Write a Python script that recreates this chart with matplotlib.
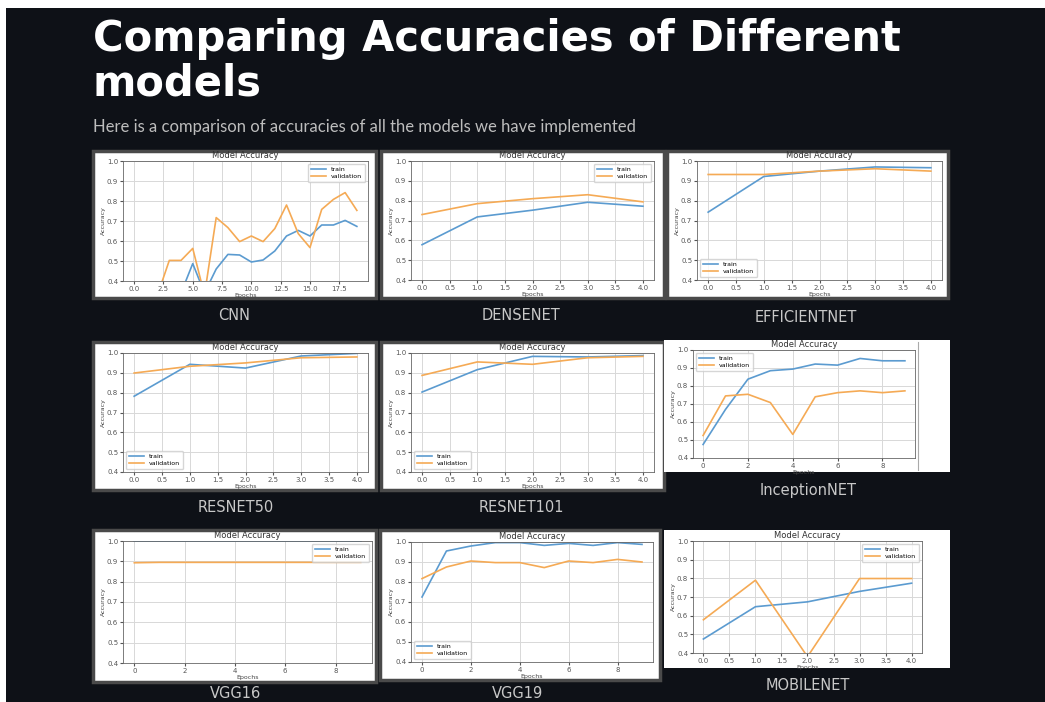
import matplotlib.pyplot as plt
from matplotlib.patches import Rectangle
from matplotlib.ticker import MultipleLocator

# Data (accuracy per epoch)
cnn_train = [0.22, 0.27, 0.30, 0.32, 0.34, 0.487, 0.34, 0.46, 0.533, 0.53,
             0.495, 0.505, 0.55, 0.625, 0.653, 0.625, 0.68, 0.68, 0.703, 0.673]
cnn_val = [0.25, 0.29, 0.331, 0.503, 0.503, 0.563, 0.33, 0.717, 0.667, 0.597,
           0.625, 0.597, 0.662, 0.78, 0.637, 0.567, 0.758, 0.808, 0.842, 0.753]

densenet_train = [0.578, 0.718, 0.752, 0.792, 0.772]
densenet_val = [0.73, 0.785, 0.81, 0.83, 0.794]

efficientnet_train = [0.742, 0.922, 0.949, 0.97, 0.966]
efficientnet_val = [0.932, 0.932, 0.949, 0.961, 0.949]

resnet50_train = [0.782, 0.943, 0.924, 0.985, 0.998]
resnet50_val = [0.899, 0.933, 0.95, 0.976, 0.98]

resnet101_train = [0.803, 0.916, 0.983, 0.98, 0.987]
resnet101_val = [0.887, 0.955, 0.943, 0.976, 0.983]

inception_train = [0.475, 0.67, 0.838, 0.885, 0.894, 0.922, 0.916, 0.953, 0.94, 0.94]
inception_val = [0.525, 0.745, 0.754, 0.708, 0.531, 0.74, 0.763, 0.773, 0.763, 0.773]

vgg16_train = [1.0, 1.0, 1.0, 1.0, 1.0, 1.0, 1.0, 1.0, 1.0, 1.0]
vgg16_val = [0.893, 0.895, 0.895, 0.895, 0.895, 0.895, 0.895, 0.895, 0.895, 0.895]

vgg19_train = [0.725, 0.955, 0.98, 0.997, 0.997, 0.983, 0.993, 0.983, 0.997, 0.988]
vgg19_val = [0.817, 0.875, 0.905, 0.897, 0.897, 0.872, 0.905, 0.897, 0.913, 0.9]

mobilenet_train = [0.475, 0.648, 0.674, 0.73, 0.774]
mobilenet_val = [0.578, 0.79, 0.38, 0.799, 0.799]

model_names = ['CNN', 'DENSENET', 'EFFICIENTNET', 'RESNET50', 'RESNET101',
               'InceptionNET', 'VGG16', 'VGG19', 'MOBILENET']
train_curves = [cnn_train, densenet_train, efficientnet_train, resnet50_train,
                resnet101_train, inception_train, vgg16_train, vgg19_train, mobilenet_train]
val_curves = [cnn_val, densenet_val, efficientnet_val, resnet50_val,
              resnet101_val, inception_val, vgg16_val, vgg19_val, mobilenet_val]
legend_locs = ['upper right', 'upper right', 'lower left', 'lower left', 'lower left',
               'upper left', 'upper right', 'lower left', 'upper right']

W, H = 1045, 702
BG = '#0e1117'

fig = plt.figure(figsize=(W / 100, H / 100), dpi=100, facecolor='white')


def fig_rect(l, t, r, b, **kw):
    rect = Rectangle((l / W, 1 - b / H), (r - l) / W, (b - t) / H,
                     transform=fig.transFigure, zorder=-10, **kw)
    fig.patches.append(rect)
    return rect


# dark page with thin white strip on top / left
fig_rect(6, 8, W, H, facecolor=BG, edgecolor='none')

fig.text(93 / W, 1 - 51 / H, 'Comparing Accuracies of Different', color='white',
         fontsize=30, fontweight='bold', family='DejaVu Sans', va='baseline')
fig.text(93 / W, 1 - 96 / H, 'models', color='white',
         fontsize=30, fontweight='bold', family='DejaVu Sans', va='baseline')
fig.text(93 / W, 1 - 132 / H,
         'Here is a comparison of accuracies of all the models we have implemented',
         color='#bdbdbd', fontsize=12, family='Lato', va='baseline')

# card box (l, t, r, b), axes box (l, t, r, b), caption position (x, y)
cards = [(93, 151, 376, 298), (381, 151, 664, 298), (667, 151, 948, 298),
         (93, 342, 376, 490), (381, 342, 664, 490), (664, 340, 950, 472),
         (93, 530, 376, 682), (380, 530, 660, 680), (664, 530, 950, 668)]
axes_boxes = [(123, 161, 368, 281), (411, 161, 654, 280), (697, 161, 942, 280),
              (123, 353, 368, 472), (411, 353, 654, 472), (693, 350, 915, 458),
              (123, 541, 372, 663), (411, 542, 653, 662), (693, 541, 922, 653)]
captions = [(234, 316), (521, 315), (806, 318), (236, 507), (521, 507),
            (808, 490), (236, 693), (518, 693), (808, 686)]
x_steps = [2.5, 0.5, 0.5, 0.5, 0.5, 2, 2, 2, 0.5]

for i, name in enumerate(model_names):
    l, t, r, b = cards[i]
    edge = '#4a4a4a' if i not in (5, 8) else 'none'
    fig_rect(l, t, r, b, facecolor='white', edgecolor=edge, lw=2.5)

    al, at, ar, ab = axes_boxes[i]
    ax = fig.add_axes([al / W, 1 - ab / H, (ar - al) / W, (ab - at) / H])
    epochs = list(range(len(train_curves[i])))
    ax.plot(epochs, train_curves[i], color='#5b9bd0', lw=1.2, label='train')
    ax.plot(epochs, val_curves[i], color='#f5aa55', lw=1.2, label='validation')
    ax.set_ylim(0.4, 1.0)
    ax.yaxis.set_major_locator(MultipleLocator(0.1))
    ax.xaxis.set_major_locator(MultipleLocator(x_steps[i]))
    ax.grid(True, color='#d8d8d8', lw=0.7)
    ax.set_title('Model Accuracy', fontsize=6, pad=2, color='#333333')
    ax.set_xlabel('Epochs', fontsize=4.5, labelpad=1, color='#444444')
    ax.set_ylabel('Accuracy', fontsize=4.5, labelpad=1, color='#444444')
    ax.tick_params(labelsize=5, length=2, pad=1.5, colors='#555555')
    for sp in ax.spines.values():
        sp.set_color('#666666')
        sp.set_linewidth(0.6)
    ax.legend(loc=legend_locs[i], fontsize=4.5, frameon=True, framealpha=0.8,
              handlelength=2.5, borderpad=0.4, labelspacing=0.3)

    cx, cy = captions[i]
    fig.text(cx / W, 1 - cy / H, name, color='#c8c8c8', fontsize=10.5,
             ha='center', va='center', family='DejaVu Sans')

# thin divider seen on the right of the InceptionNET screenshot
fig.add_artist(plt.Line2D([918 / W, 918 / W], [1 - 470 / H, 1 - 342 / H],
                          color='#aaaaaa', lw=0.8))

fig.savefig('out.png', dpi=100, facecolor='white')
